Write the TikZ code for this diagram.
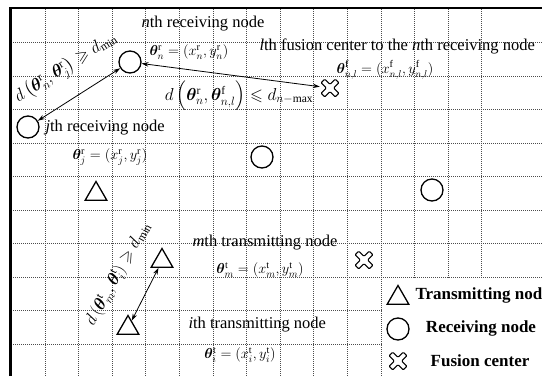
\documentclass[tikz,border=0pt]{standalone}
\usepackage{amsmath,amssymb,bm}
\usepackage{fontspec}
\setmainfont{Liberation Serif}
\usetikzlibrary{shapes.geometric, arrows.meta, positioning, calc}

\begin{document}
\begin{tikzpicture}[
    x=1pt, y=-1pt,
    every node/.style={font=\fontsize{16.5}{19}\selectfont},
    rxnode/.style={circle, draw, line width=1.3pt, minimum size=22pt, inner sep=0pt},
    txnode/.style={regular polygon, regular polygon sides=3, draw, line width=1.3pt, minimum size=25pt, inner sep=0pt},
    fcnode/.style={rectangle, minimum size=20pt, inner sep=0pt, path picture={
        \draw[line width=1.1pt, rounded corners=1pt, shift={(path picture bounding box.center)}]
          (0,3.68) -- (-5.23,8.91) -- (-8.91,5.23) -- (-3.68,0) -- (-8.91,-5.23) -- (-5.23,-8.91)
          -- (0,-3.68) -- (5.23,-8.91) -- (8.91,-5.23) -- (3.68,0) -- (8.91,5.23) -- (5.23,8.91) -- cycle;}},
    eqtext/.style={font=\fontsize{14.5}{16}\selectfont},
    distlab/.style={font=\fontsize{16.5}{19}\selectfont, inner sep=1pt},
    legtext/.style={font=\fontsize{17}{20}\selectfont\bfseries},
    gridline/.style={dash pattern=on 1pt off 1pt, black!70, line width=0.7pt},
    dblarrow/.style={{Stealth[length=7pt,width=4.5pt]}-{Stealth[length=7pt,width=4.5pt]}, line width=0.8pt}
]
\useasboundingbox (0,0) rectangle (542,376);

% ── grid and frame ──
\foreach \k in {1,...,14}
    \draw[gridline] ({11.4+33.6*\k},9) -- ({11.4+33.6*\k},376);
\foreach \k in {1,...,10}
    \draw[gridline] (11,{9+33.5*\k}) -- (542,{9+33.5*\k});
\fill[white] (382,278) rectangle (545,380);
\draw[line width=2.5pt] (10.5,376) -- (10.5,8) -- (542,8);

% ── receiving nodes ──
\node[rxnode] (rn) at (130,62) {};
\node[rxnode] (rj) at (28,127) {};
\node[rxnode] (r3) at (262,157) {};
\node[rxnode] (r4) at (432,190) {};
\node (rntitle) at (203,24) {\textit{n}th receiving node};
\node[eqtext] (rneq) at (189,52) {$\bm{\theta}^{\mathrm{r}}_{n}=(x^{\mathrm{r}}_{n},y^{\mathrm{r}}_{n})$};
\node[anchor=west] (rjtitle) at (42,128) {\textit{j}th receiving node};
\node[eqtext] (rjeq) at (110,157) {$\bm{\theta}^{\mathrm{r}}_{j}=(x^{\mathrm{r}}_{j},y^{\mathrm{r}}_{j})$};

% ── fusion centers ──
\node[fcnode] (f1) at (330,88) {};
\node[fcnode] (f2) at (364,260) {};
\node[anchor=west] (fctitle) at (256,46) {\textit{l}th fusion center to the \textit{n}th receiving node};
\node[eqtext] (fceq) at (385,70) {$\bm{\theta}^{\mathrm{f}}_{n,l}=(x^{\mathrm{f}}_{n,l},y^{\mathrm{f}}_{n,l})$};

% ── transmitting nodes ──
\node[txnode] (t1) at (96,194) {};
\node[txnode] (tm) at (162,261) {};
\node[txnode] (ti) at (128,328) {};
\node[anchor=west] (tmtitle) at (189,243) {\textit{m}th transmitting node};
\node[eqtext] (tmeq) at (260,270) {$\bm{\theta}^{\mathrm{t}}_{m}=(x^{\mathrm{t}}_{m},y^{\mathrm{t}}_{m})$};
\node[anchor=west] (tititle) at (185,325) {\textit{i}th transmitting node};
\node[eqtext] (tieq) at (240,355) {$\bm{\theta}^{\mathrm{t}}_{i}=(x^{\mathrm{t}}_{i},y^{\mathrm{t}}_{i})$};

% ── distance constraints ──
\draw[dblarrow] (rj) -- (rn);
\draw[dblarrow] (rn) -- (f1);
\draw[dblarrow] (ti) -- (tm);
\node[distlab, rotate=32.5] (dlabr) at (66,68) {$d\left(\bm{\theta}^{\mathrm{r}}_{n},\bm{\theta}^{\mathrm{r}}_{j}\right)\geqslant d_{\min}$};
\node[distlab] (dlabf) at (239,96) {$d\left(\bm{\theta}^{\mathrm{r}}_{n},\bm{\theta}^{\mathrm{f}}_{n,l}\right)\leqslant d_{n-\max}$};
\node[distlab, rotate=61] (dlabt) at (118,274) {$d\left(\bm{\theta}^{\mathrm{t}}_{m},\bm{\theta}^{\mathrm{t}}_{i}\right)\geqslant d_{\min}$};

% ── legend ──
\node[txnode] (legt) at (398,298) {};
\node[legtext, anchor=west] (legtlab) at (412,295) {Transmitting node};
\node[rxnode] (legr) at (398,329) {};
\node[legtext] (legrlab) at (481,328) {Receiving node};
\node[fcnode] (legf) at (398,361) {};
\node[legtext] (legflab) at (480,361) {Fusion center};

\end{tikzpicture}
\end{document}
